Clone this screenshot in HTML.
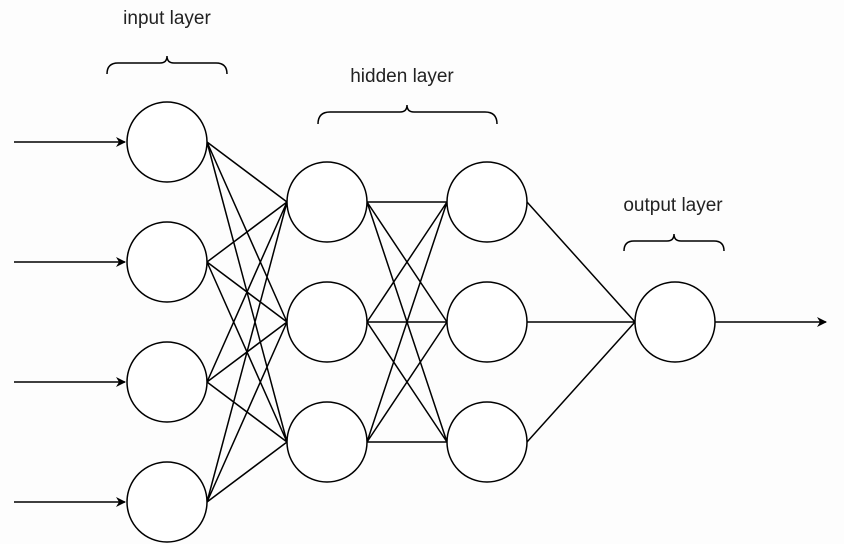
<!DOCTYPE html>
<html><head><meta charset="utf-8"><style>
html,body{margin:0;padding:0;background:#fff;}
svg{display:block;}
text{font-family:"Liberation Sans",sans-serif;font-size:19px;fill:#222;}
</style></head><body>
<svg width="844" height="544" viewBox="0 0 844 544" xmlns="http://www.w3.org/2000/svg">
<rect x="0" y="0" width="844" height="544" fill="#fdfdfd"/>
<defs><marker id="a" markerWidth="10" markerHeight="10" refX="9" refY="5" orient="auto" markerUnits="userSpaceOnUse"><path d="M0,0 L10,5 L0,10 L3,5 Z" fill="#000"/></marker></defs>
<g stroke="#000" stroke-width="1.5" fill="none">
<line x1="14" y1="142" x2="125" y2="142" marker-end="url(#a)"/>
<line x1="14" y1="262" x2="125" y2="262" marker-end="url(#a)"/>
<line x1="14" y1="382" x2="125" y2="382" marker-end="url(#a)"/>
<line x1="14" y1="502" x2="125" y2="502" marker-end="url(#a)"/>
<line x1="715" y1="322" x2="826" y2="322" marker-end="url(#a)"/>
<!-- input -> hidden1 -->
<path d="M207,142L287,202M207,142L287,322M207,142L287,442
M207,262L287,202M207,262L287,322M207,262L287,442
M207,382L287,202M207,382L287,322M207,382L287,442
M207,502L287,202M207,502L287,322M207,502L287,442"/>
<!-- hidden1 -> hidden2 -->
<path d="M367,202L447,202M367,202L447,322M367,202L447,442
M367,322L447,202M367,322L447,322M367,322L447,442
M367,442L447,202M367,442L447,322M367,442L447,442"/>
<!-- hidden2 -> output -->
<path d="M527,202L635,322M527,322L635,322M527,442L635,322"/>
<!-- braces -->
<path d="M107,74 Q107,63 118,63 L160,63 Q167,63 167,56 Q167,63 174,63 L216,63 Q227,63 227,74"/>
<path d="M318,124 Q318,112 330,112 L400,112 Q407,112 407,105 Q407,112 414,112 L485,112 Q497,112 497,124"/>
<path d="M624,251 Q624,241 634,241 L667,241 Q674,241 674,234 Q674,241 681,241 L714,241 Q724,241 724,251"/>
</g>
<g stroke="#000" stroke-width="1.5" fill="#fff">
<circle cx="167" cy="142" r="40"/><circle cx="167" cy="262" r="40"/>
<circle cx="167" cy="382" r="40"/><circle cx="167" cy="502" r="40"/>
<circle cx="327" cy="202" r="40"/><circle cx="327" cy="322" r="40"/><circle cx="327" cy="442" r="40"/>
<circle cx="487" cy="202" r="40"/><circle cx="487" cy="322" r="40"/><circle cx="487" cy="442" r="40"/>
<circle cx="675" cy="322" r="40"/>
</g>
<text x="167" y="24" text-anchor="middle">input layer</text>
<text x="402" y="82" text-anchor="middle">hidden layer</text>
<text x="673" y="211" text-anchor="middle">output layer</text>
</svg>
</body></html>
